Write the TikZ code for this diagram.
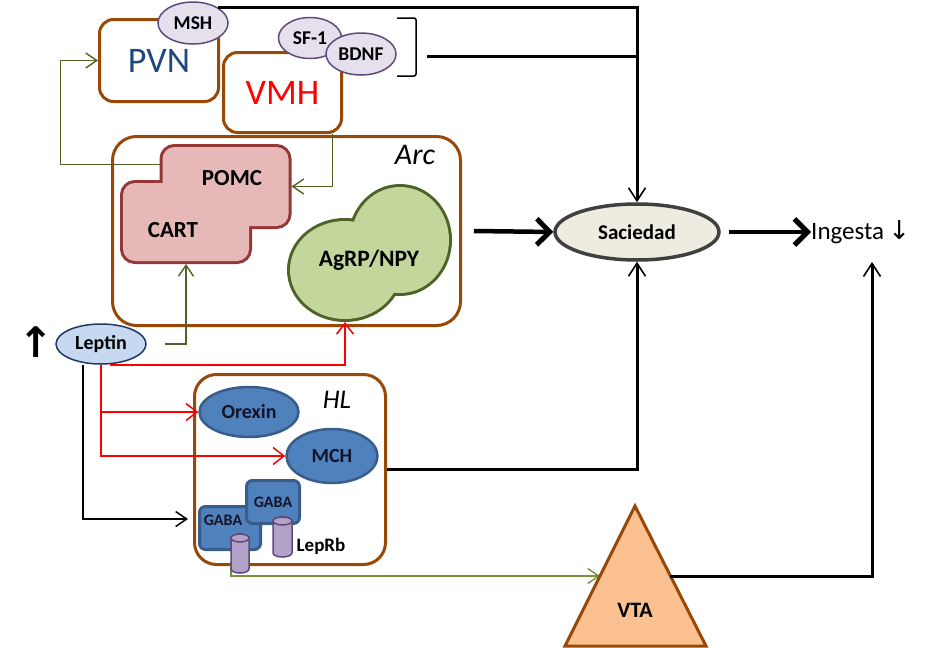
\documentclass[tikz,border=0pt]{standalone}
\usepackage{fontspec}
\setmainfont{Carlito}
\newfontfamily\arrowfont{DejaVu Sans}
\usetikzlibrary{arrows.meta, shapes.geometric, positioning}
\definecolor{regionbrown}{RGB}{152,72,7}
\definecolor{pvnblue}{RGB}{31,73,125}
\definecolor{lilacfill}{RGB}{229,224,236}
\definecolor{lilacline}{RGB}{96,74,123}
\definecolor{pomcfill}{RGB}{230,185,184}
\definecolor{pomcline}{RGB}{149,55,53}
\definecolor{agrpfill}{RGB}{195,214,155}
\definecolor{agrpline}{RGB}{79,98,40}
\definecolor{leptinfill}{RGB}{198,217,241}
\definecolor{leptinline}{RGB}{31,56,100}
\definecolor{hlfill}{RGB}{79,129,189}
\definecolor{hlline}{RGB}{56,93,138}
\definecolor{textdark}{RGB}{20,20,40}
\definecolor{sacfill}{RGB}{238,236,225}
\definecolor{sacline}{RGB}{64,64,64}
\definecolor{vtafill}{RGB}{250,192,144}
\definecolor{receptfill}{RGB}{179,162,199}
\definecolor{receptline}{RGB}{95,73,122}
\definecolor{linkgreen}{RGB}{79,98,40}
\definecolor{linklight}{RGB}{119,147,60}

\begin{document}
\begin{tikzpicture}[x=1pt, y=-1pt,
    region/.style={rectangle, draw=regionbrown, fill=white, line width=3pt,
                   rounded corners=14pt},
    nucname/.style={inner sep=0pt, font=\fontsize{30}{32}\selectfont\itshape},
    tag/.style={ellipse, draw=lilacline, fill=lilacfill, line width=1.5pt,
                inner sep=0pt, font=\fontsize{19.5}{21}\selectfont\bfseries},
    pomcbase/.style={rectangle, rounded corners=12pt, inner sep=0pt, outer sep=0pt,
                     draw=pomcline, fill=pomcfill, line width=6pt},
    agrpbase/.style={ellipse, inner sep=0pt, outer sep=0pt,
                     draw=agrpline, fill=agrpfill, line width=6pt},
    cellname/.style={inner sep=0pt, font=\fontsize{23}{25}\selectfont\bfseries},
    neuron/.style={ellipse, draw=hlline, fill=hlfill, line width=2.5pt, inner sep=0pt,
                   text=textdark, font=\fontsize{20}{22}\selectfont\bfseries},
    gaba/.style={rectangle, rounded corners=6pt, draw=hlline, fill=hlfill,
                 line width=3pt, inner sep=0pt, text=textdark,
                 font=\fontsize{16}{18}\selectfont\bfseries},
    receptcore/.style={rectangle, inner sep=0pt, outer sep=0pt},
    recept/.style={draw=receptline, fill=receptfill, line width=1.5pt},
    linkarr/.style={draw=linkgreen, line width=1.4pt,
                    -{Straight Barb[length=11pt, width=15pt, line width=1.4pt]}},
    redarr/.style={draw=red, line width=1.5pt,
                   -{Straight Barb[length=11pt, width=17pt, line width=1.5pt]}},
    blkline/.style={draw=black, line width=3pt},
    blkarr/.style={blkline, -{Straight Barb[length=13pt, width=17pt, line width=1.6pt]}},
    thinarr/.style={draw=black, line width=1.5pt,
                    -{Straight Barb[length=11pt, width=15pt, line width=1.5pt]}},
    bigarr/.style={draw=black, line width=4.5pt,
                   -{Straight Barb[length=13pt, width=26pt, line width=5pt]}}
]
    \useasboundingbox (0,0) rectangle (940,648);
    \fill[white] (0,0) rectangle (940,648);

    % hypothalamic nuclei on top
    \node[region, minimum width=119pt, minimum height=82pt, text=pvnblue,
          font=\fontsize{36}{40}\selectfont] (pvn) at (159,60.5) {PVN};
    \node[tag, minimum width=70pt, minimum height=42pt] (msh) at (193,23) {MSH};
    \node[region, minimum width=118pt, minimum height=80pt, text=red,
          font=\fontsize{36}{40}\selectfont] (vmh) at (282.5,92.5) {VMH};
    \node[tag, minimum width=63pt, minimum height=41pt] (sf1) at (310,38) {SF-1};
    \node[tag, minimum width=70pt, minimum height=42pt] (bdnf) at (361,54) {BDNF};
    \draw[line width=1.5pt, rounded corners=2pt] (397,18) -- (416,18) -- (416,76) -- (397,76);
    \coordinate (brk) at (427,56);

    % Arc
    \node[region, rounded corners=24pt, minimum width=348pt, minimum height=189pt] (arc) at (286.5,231) {};
    \node[nucname] (arcname) at (415,155) {Arc};
    \node[pomcbase, minimum width=126pt, minimum height=79pt] (pomc) at (225.5,186.5) {};
    \node[pomcbase, minimum width=126pt, minimum height=78pt] (cart) at (186,222) {};
    \fill[pomcfill, rounded corners=12pt] (pomc.south west) rectangle (pomc.north east);
    \fill[pomcfill, rounded corners=12pt] (cart.south west) rectangle (cart.north east);
    \node[cellname] (pomctext) at (232,178) {POMC};
    \node[cellname] (carttext) at (173,230) {CART};
    \node[agrpbase, minimum width=110pt, minimum height=98pt] (agrp) at (345,270) {};
    \node[agrpbase, minimum width=98pt, minimum height=106pt] (npy) at (400,240) {};
    \fill[agrpfill] (agrp.center) ellipse [x radius=55pt, y radius=49pt];
    \fill[agrpfill] (npy.center) ellipse [x radius=49pt, y radius=53pt];
    \node[cellname, font=\fontsize{23.5}{25}\selectfont\bfseries] (agrptext) at (369,260) {AgRP/NPY};

    % satiety and intake
    \node[ellipse, draw=sacline, fill=sacfill, line width=3.5pt, minimum width=164pt,
          minimum height=56pt, inner sep=0pt, font=\fontsize{21}{23}\selectfont\bfseries] (sac) at (637,232) {Saciedad};
    \node[anchor=west, inner sep=0pt, font=\fontsize{25}{28}\selectfont] (ing) at (811,232)
        {Ingesta\,{\arrowfont\fontsize{26}{28}\selectfont ↓}};
    \coordinate (ingIn) at (872,262);

    % leptin
    \node[ellipse, draw=leptinline, fill=leptinfill, line width=1.5pt, minimum width=90pt,
          minimum height=40pt, inner sep=0pt, font=\fontsize{20}{22}\selectfont\bfseries] (lep) at (101,344) {Leptin};
    \node[inner sep=0pt, font=\arrowfont\bfseries\fontsize{42}{42}\selectfont] (leprise) at (36,342) {↑};

    % HL
    \node[region, rounded corners=22pt, minimum width=191pt, minimum height=190pt] (hl) at (290,469.5) {};
    \node[nucname, font=\fontsize{27}{29}\selectfont\itshape] (hlname) at (337,400) {HL};
    \node[neuron, minimum width=99pt, minimum height=50pt] (orx) at (249,412) {Orexin};
    \node[neuron, minimum width=91pt, minimum height=54pt] (mch) at (332,456) {MCH};
    \node[gaba, minimum width=61pt, minimum height=43pt] (gabaA) at (230,528) {};
    \node[gaba, draw=none, fill=none] (gabaAtext) at (223,520) {GABA};
    \node[gaba, minimum width=53pt, minimum height=43pt] (gabaB) at (273,502) {GABA};
    \coordinate (recAfoot) at (231,562);
    \coordinate (vtaL) at (600,576);
    \coordinate (vtaR) at (670,576);
    \draw[draw=linklight, line width=1.4pt,
          -{Straight Barb[length=11pt, width=15pt, line width=1.4pt]}] (recAfoot) |- (vtaL);
    % LepRb receptors
    \node[receptcore, minimum width=18pt, minimum height=31pt] (recA) at (240,553.5) {};
    \node[receptcore, minimum width=19pt, minimum height=32pt] (recB) at (282.5,537) {};
    \foreach \r/\rx in {recA/9, recB/9.5} {
        \draw[recept] (\r.north west) -- (\r.south west)
            arc[start angle=180, end angle=360, x radius=\rx pt, y radius=4pt]
            -- (\r.north east)
            arc[start angle=0, end angle=180, x radius=\rx pt, y radius=4pt] -- cycle;
        \draw[recept] (\r.north) ellipse [x radius=\rx pt, y radius=4pt];
    }
    \node[cellname, font=\fontsize{19}{21}\selectfont\bfseries] (leprb) at (321,546) {LepRb};

    % VTA
    \draw[draw=regionbrown, fill=vtafill, line width=3pt] (635,506) -- (706,646) -- (565,646) -- cycle;
    \node[cellname, font=\fontsize{22}{24}\selectfont\bfseries] (vta) at (635,610) {VTA};

    % connections
    \draw[blkarr] (msh.north east) -| (sac.north);
    \draw[blkline] (brk) -- (brk -| sac);
    \draw[bigarr] ([xshift=12pt]arc.east) -- (sac.west);
    \draw[bigarr] ([xshift=8pt]sac.east) -- (ing.west);
    \draw[blkarr] (hl.east) -| (sac.south);
    \draw[blkarr] (vtaR) -| (ingIn);
    \draw[linkarr] ([xshift=-3pt,yshift=22pt]pomc.west) -- ++(-99,0) |- (pvn.west);
    \draw[linkarr] ([xshift=50pt]vmh.south) |- ([xshift=3pt]pomc.east);
    \draw[linkarr] ([xshift=18pt]lep.east) -| ([yshift=-3pt]cart.south);
    \draw[redarr] ([xshift=9pt]lep.south) -| ([yshift=-3pt]agrp.south);
    \draw[redarr] (lep.south) |- (orx.west);
    \draw[redarr] (lep.south) |- (mch.west);
    \draw[thinarr] ([xshift=-18pt]lep.south) |- ([xshift=-10pt,yshift=9pt]gabaA.west);
\end{tikzpicture}
\end{document}
